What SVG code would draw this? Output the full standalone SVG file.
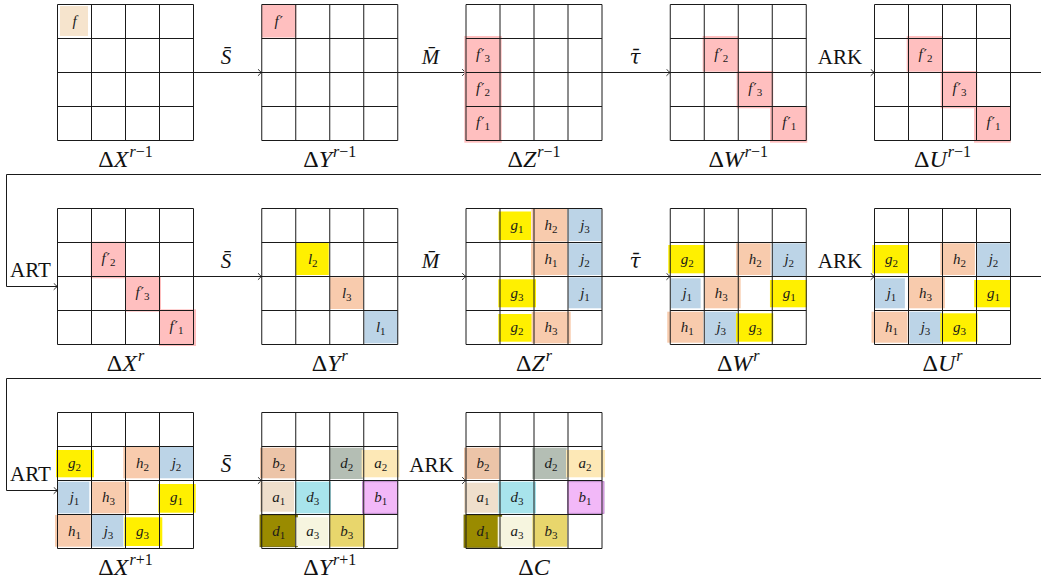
<svg xmlns="http://www.w3.org/2000/svg" width="1041" height="583" viewBox="0 0 1041 583">
<style>
.g{fill:none;stroke:#1a1a1a;stroke-width:1}
.c{font-family:"Liberation Serif",serif;font-size:15px;text-anchor:middle;fill:#1a1a1a}
.i{font-style:italic}
.s{font-size:11px}
.p{font-family:"DejaVu Sans",sans-serif;font-size:14px}
.L{font-family:"Liberation Serif",serif;font-size:24px;text-anchor:middle;fill:#111}
.sup{font-size:16px}
.op{font-family:"Liberation Serif",serif;font-size:21px;text-anchor:middle;fill:#111}
.tau{font-family:"DejaVu Serif",serif;font-size:20px;text-anchor:middle;fill:#111}
.art{font-family:"Liberation Serif",serif;font-size:21px;fill:#111}
.cn{fill:none;stroke:#1a1a1a;stroke-width:1}
.pk{fill:#ffbfbf}
.yl{fill:#fff000}
.pe{fill:#f8cbad}
.bl{fill:#bcd4e7}
</style>
<defs>
<path id="grid" class="g" d="M0,0H136V136H0Z M34,0V136 M68,0V136 M102,0V136 M0,34H136 M0,68H136 M0,102H136"/>
<marker id="ah" markerWidth="6" markerHeight="8" viewBox="-5 -4 6 8" refX="0" refY="0" orient="auto" markerUnits="userSpaceOnUse">
<path d="M-3.8,-3.3 Q-1.2,-0.6 0,0 Q-1.2,0.6 -3.8,3.3" fill="none" stroke="#1a1a1a" stroke-width="0.9"/>
</marker>
</defs>

<g id="connectors">
<path class="cn" d="M193.5,72.5H261.75" marker-end="url(#ah)"/>
<path class="cn" d="M397.75,72.5H466" marker-end="url(#ah)"/>
<path class="cn" d="M602,72.5H670.25" marker-end="url(#ah)"/>
<path class="cn" d="M806.25,72.5H874.5" marker-end="url(#ah)"/>
<path class="cn" d="M1010.5,72.5H1041"/>
<path class="cn" d="M1041,174.5H6.5V286.5H57.5" marker-end="url(#ah)"/>
<path class="cn" d="M193.5,276.5H261.75" marker-end="url(#ah)"/>
<path class="cn" d="M397.75,276.5H466" marker-end="url(#ah)"/>
<path class="cn" d="M602,276.5H670.25" marker-end="url(#ah)"/>
<path class="cn" d="M806.25,276.5H874.5" marker-end="url(#ah)"/>
<path class="cn" d="M1010.5,276.5H1041"/>
<path class="cn" d="M1041,378.5H6.5V490.5H57.5" marker-end="url(#ah)"/>
<path class="cn" d="M193.5,480.5H261.75" marker-end="url(#ah)"/>
<path class="cn" d="M397.75,480.5H466" marker-end="url(#ah)"/>
<text class="op" x="226" y="63.5"><tspan class="i">S&#x304;</tspan></text>
<text class="op" x="430.5" y="63.5"><tspan class="i">M&#x304;</tspan></text>
<text class="tau" x="635" y="63.5"><tspan class="i">τ&#x304;</tspan></text>
<text class="op" x="840" y="63.5">ARK</text>
<text class="art" x="10" y="277">ART</text>
<text class="op" x="226" y="267.5"><tspan class="i">S&#x304;</tspan></text>
<text class="op" x="430.5" y="267.5"><tspan class="i">M&#x304;</tspan></text>
<text class="tau" x="635" y="267.5"><tspan class="i">τ&#x304;</tspan></text>
<text class="op" x="840" y="267.5">ARK</text>
<text class="art" x="10" y="481">ART</text>
<text class="op" x="226" y="471.5"><tspan class="i">S&#x304;</tspan></text>
<text class="op" x="431.5" y="471.5">ARK</text>
</g>

<g id="dX_rm1" transform="translate(57.5,4.5)">
<rect x="2.5" y="1.5" width="28" height="30" fill="#f6e4cd"/>
<use href="#grid"/>
<text class="c" x="17" y="21"><tspan class="i">f</tspan></text>
<text class="L" x="68" y="162">Δ<tspan class="i">X</tspan><tspan class="sup" dx="1" dy="-10"><tspan class="i">r</tspan>−1</tspan></text>
</g>

<g id="dY_rm1" transform="translate(261.75,4.5)">
<rect class="pk" x="0" y="0" width="34.5" height="33"/>
<use href="#grid"/>
<text class="c" x="17" y="21"><tspan class="i">f</tspan><tspan class="p" dx="1">′</tspan></text>
<text class="L" x="68" y="162">Δ<tspan class="i">Y</tspan><tspan class="sup" dx="1" dy="-10"><tspan class="i">r</tspan>−1</tspan></text>
</g>

<g id="dZ_rm1" transform="translate(466,4.5)">
<rect class="pk" x="-1.7" y="31.5" width="37.4" height="106.7"/>
<use href="#grid"/>
<text class="c" x="17" y="54"><tspan class="i">f</tspan><tspan class="p" dx="1">′</tspan><tspan class="s" dy="3">3</tspan></text>
<text class="c" x="17" y="88"><tspan class="i">f</tspan><tspan class="p" dx="1">′</tspan><tspan class="s" dy="3">2</tspan></text>
<text class="c" x="17" y="122"><tspan class="i">f</tspan><tspan class="p" dx="1">′</tspan><tspan class="s" dy="3">1</tspan></text>
<text class="L" x="68" y="162">Δ<tspan class="i">Z</tspan><tspan class="sup" dx="1" dy="-10"><tspan class="i">r</tspan>−1</tspan></text>
</g>

<g id="dW_rm1" transform="translate(670.25,4.5)">
<rect class="pk" x="32.4" y="31.5" width="36.3" height="35.7"/>
<rect class="pk" x="66.4" y="66.5" width="36.6" height="37.3"/>
<rect class="pk" x="99.75" y="101.5" width="37.25" height="36.7"/>
<use href="#grid"/>
<text class="c" x="51" y="54"><tspan class="i">f</tspan><tspan class="p" dx="1">′</tspan><tspan class="s" dy="3">2</tspan></text>
<text class="c" x="85" y="88"><tspan class="i">f</tspan><tspan class="p" dx="1">′</tspan><tspan class="s" dy="3">3</tspan></text>
<text class="c" x="119" y="122"><tspan class="i">f</tspan><tspan class="p" dx="1">′</tspan><tspan class="s" dy="3">1</tspan></text>
<text class="L" x="68" y="162">Δ<tspan class="i">W</tspan><tspan class="sup" dx="1" dy="-10"><tspan class="i">r</tspan>−1</tspan></text>
</g>

<g id="dU_rm1" transform="translate(874.5,4.5)">
<rect class="pk" x="32.2" y="31.5" width="36" height="35.7"/>
<rect class="pk" x="66.2" y="66.5" width="36.6" height="37.3"/>
<rect class="pk" x="99.5" y="101.5" width="36.7" height="36.7"/>
<use href="#grid"/>
<text class="c" x="51" y="54"><tspan class="i">f</tspan><tspan class="p" dx="1">′</tspan><tspan class="s" dy="3">2</tspan></text>
<text class="c" x="85" y="88"><tspan class="i">f</tspan><tspan class="p" dx="1">′</tspan><tspan class="s" dy="3">3</tspan></text>
<text class="c" x="119" y="122"><tspan class="i">f</tspan><tspan class="p" dx="1">′</tspan><tspan class="s" dy="3">1</tspan></text>
<text class="L" x="68" y="162">Δ<tspan class="i">U</tspan><tspan class="sup" dx="1" dy="-10"><tspan class="i">r</tspan>−1</tspan></text>
</g>

<g id="dX_r" transform="translate(57.5,208.5)">
<rect class="pk" x="33.2" y="33.2" width="35.3" height="36.6"/>
<rect class="pk" x="67.5" y="67.5" width="36" height="35.7"/>
<rect class="pk" x="101.5" y="100.8" width="37" height="36.7"/>
<use href="#grid"/>
<text class="c" x="51" y="54"><tspan class="i">f</tspan><tspan class="p" dx="1">′</tspan><tspan class="s" dy="3">2</tspan></text>
<text class="c" x="85" y="88"><tspan class="i">f</tspan><tspan class="p" dx="1">′</tspan><tspan class="s" dy="3">3</tspan></text>
<text class="c" x="119" y="122"><tspan class="i">f</tspan><tspan class="p" dx="1">′</tspan><tspan class="s" dy="3">1</tspan></text>
<text class="L" x="68" y="162">Δ<tspan class="i">X</tspan><tspan class="sup i" dx="1" dy="-10">r</tspan></text>
</g>

<g id="dY_r" transform="translate(261.75,208.5)">
<rect class="yl" x="34" y="34" width="33" height="32.5"/>
<rect class="pe" x="68.3" y="68.8" width="33.3" height="31.7"/>
<rect class="bl" x="102.5" y="102.5" width="33.5" height="32.3"/>
<use href="#grid"/>
<text class="c" x="51" y="55"><tspan class="i">l</tspan><tspan class="s" dy="3">2</tspan></text>
<text class="c" x="85" y="89"><tspan class="i">l</tspan><tspan class="s" dy="3">3</tspan></text>
<text class="c" x="119" y="123"><tspan class="i">l</tspan><tspan class="s" dy="3">1</tspan></text>
<text class="L" x="68" y="162">Δ<tspan class="i">Y</tspan><tspan class="sup i" dx="1" dy="-10">r</tspan></text>
</g>

<g id="dZ_r" transform="translate(466,208.5)">
<rect class="yl" x="32.5" y="3" width="32.5" height="28.5"/>
<rect class="pe" x="65.5" y="0" width="35.5" height="33"/>
<rect class="bl" x="102.5" y="0" width="33" height="32.5"/>
<rect class="pe" x="65" y="34.8" width="36.3" height="31.7"/>
<rect class="bl" x="102.3" y="34.8" width="33.4" height="31.7"/>
<rect class="yl" x="32.3" y="70.8" width="37.7" height="28"/>
<rect class="bl" x="102.3" y="68.8" width="33.4" height="31"/>
<rect class="yl" x="32.3" y="105.5" width="33.4" height="27.7"/>
<rect class="pe" x="65.7" y="103.2" width="39" height="31.6"/>
<use href="#grid"/>
<text class="c" x="51" y="21"><tspan class="i">g</tspan><tspan class="s" dy="3">1</tspan></text>
<text class="c" x="85" y="21"><tspan class="i">h</tspan><tspan class="s" dy="3">2</tspan></text>
<text class="c" x="119" y="21"><tspan class="i">j</tspan><tspan class="s" dy="3">3</tspan></text>
<text class="c" x="85" y="55"><tspan class="i">h</tspan><tspan class="s" dy="3">1</tspan></text>
<text class="c" x="119" y="55"><tspan class="i">j</tspan><tspan class="s" dy="3">2</tspan></text>
<text class="c" x="51" y="89"><tspan class="i">g</tspan><tspan class="s" dy="3">3</tspan></text>
<text class="c" x="119" y="89"><tspan class="i">j</tspan><tspan class="s" dy="3">1</tspan></text>
<text class="c" x="51" y="123"><tspan class="i">g</tspan><tspan class="s" dy="3">2</tspan></text>
<text class="c" x="85" y="123"><tspan class="i">h</tspan><tspan class="s" dy="3">3</tspan></text>
<text class="L" x="68" y="162">Δ<tspan class="i">Z</tspan><tspan class="sup i" dx="1" dy="-10">r</tspan></text>
</g>

<g id="dW_r" transform="translate(670.25,208.5)">
<rect class="yl" x="-2" y="36.5" width="36.8" height="28.3"/>
<rect class="pe" x="65.8" y="34.8" width="34.6" height="31.7"/>
<rect class="bl" x="102" y="34.8" width="33.4" height="32.7"/>
<rect class="bl" x="0.4" y="69.8" width="30" height="30"/>
<rect class="pe" x="34" y="68.8" width="36.4" height="31"/>
<rect class="yl" x="99.7" y="71.5" width="36.7" height="27.3"/>
<rect class="pe" x="-3" y="103.2" width="36" height="31"/>
<rect class="bl" x="34.8" y="103.2" width="32.2" height="31.8"/>
<rect class="yl" x="65.8" y="104.8" width="37.2" height="28.4"/>
<use href="#grid"/>
<text class="c" x="17" y="55"><tspan class="i">g</tspan><tspan class="s" dy="3">2</tspan></text>
<text class="c" x="85" y="55"><tspan class="i">h</tspan><tspan class="s" dy="3">2</tspan></text>
<text class="c" x="119" y="55"><tspan class="i">j</tspan><tspan class="s" dy="3">2</tspan></text>
<text class="c" x="17" y="89"><tspan class="i">j</tspan><tspan class="s" dy="3">1</tspan></text>
<text class="c" x="51" y="89"><tspan class="i">h</tspan><tspan class="s" dy="3">3</tspan></text>
<text class="c" x="119" y="89"><tspan class="i">g</tspan><tspan class="s" dy="3">1</tspan></text>
<text class="c" x="17" y="123"><tspan class="i">h</tspan><tspan class="s" dy="3">1</tspan></text>
<text class="c" x="51" y="123"><tspan class="i">j</tspan><tspan class="s" dy="3">3</tspan></text>
<text class="c" x="85" y="123"><tspan class="i">g</tspan><tspan class="s" dy="3">3</tspan></text>
<text class="L" x="68" y="162">Δ<tspan class="i">W</tspan><tspan class="sup i" dx="1" dy="-10">r</tspan></text>
</g>

<g id="dU_r" transform="translate(874.5,208.5)">
<rect class="yl" x="-2.2" y="36.5" width="36.7" height="28.3"/>
<rect class="pe" x="65.8" y="34.8" width="34.6" height="31.7"/>
<rect class="bl" x="102" y="34.8" width="33.4" height="32.7"/>
<rect class="bl" x="0.4" y="69.8" width="30" height="30"/>
<rect class="pe" x="34" y="68.8" width="36.4" height="31"/>
<rect class="yl" x="99.7" y="71.5" width="36.7" height="27.3"/>
<rect class="pe" x="-3" y="103.2" width="36" height="31"/>
<rect class="bl" x="34.8" y="103.2" width="32.2" height="31.8"/>
<rect class="yl" x="65.8" y="104.8" width="37.2" height="28.4"/>
<use href="#grid"/>
<text class="c" x="17" y="55"><tspan class="i">g</tspan><tspan class="s" dy="3">2</tspan></text>
<text class="c" x="85" y="55"><tspan class="i">h</tspan><tspan class="s" dy="3">2</tspan></text>
<text class="c" x="119" y="55"><tspan class="i">j</tspan><tspan class="s" dy="3">2</tspan></text>
<text class="c" x="17" y="89"><tspan class="i">j</tspan><tspan class="s" dy="3">1</tspan></text>
<text class="c" x="51" y="89"><tspan class="i">h</tspan><tspan class="s" dy="3">3</tspan></text>
<text class="c" x="119" y="89"><tspan class="i">g</tspan><tspan class="s" dy="3">1</tspan></text>
<text class="c" x="17" y="123"><tspan class="i">h</tspan><tspan class="s" dy="3">1</tspan></text>
<text class="c" x="51" y="123"><tspan class="i">j</tspan><tspan class="s" dy="3">3</tspan></text>
<text class="c" x="85" y="123"><tspan class="i">g</tspan><tspan class="s" dy="3">3</tspan></text>
<text class="L" x="68" y="162">Δ<tspan class="i">U</tspan><tspan class="sup i" dx="1" dy="-10">r</tspan></text>
</g>

<g id="dX_rp1" transform="translate(57.5,412.5)">
<rect class="yl" x="-1.5" y="37.5" width="38" height="27.3"/>
<rect class="pe" x="65.8" y="34.2" width="35.7" height="31.6"/>
<rect class="bl" x="102.5" y="34.2" width="34" height="31.6"/>
<rect class="bl" x="-0.2" y="69.2" width="32" height="31.6"/>
<rect class="pe" x="34.2" y="69.2" width="37.3" height="31.6"/>
<rect class="yl" x="100.8" y="71.5" width="37.4" height="28.7"/>
<rect class="pe" x="-2.5" y="102.5" width="35.7" height="31.7"/>
<rect class="bl" x="34.2" y="102.5" width="31.6" height="31.7"/>
<rect class="yl" x="66.8" y="104.8" width="38" height="28.7"/>
<use href="#grid"/>
<text class="c" x="17" y="55"><tspan class="i">g</tspan><tspan class="s" dy="3">2</tspan></text>
<text class="c" x="85" y="55"><tspan class="i">h</tspan><tspan class="s" dy="3">2</tspan></text>
<text class="c" x="119" y="55"><tspan class="i">j</tspan><tspan class="s" dy="3">2</tspan></text>
<text class="c" x="17" y="89"><tspan class="i">j</tspan><tspan class="s" dy="3">1</tspan></text>
<text class="c" x="51" y="89"><tspan class="i">h</tspan><tspan class="s" dy="3">3</tspan></text>
<text class="c" x="119" y="89"><tspan class="i">g</tspan><tspan class="s" dy="3">1</tspan></text>
<text class="c" x="17" y="123"><tspan class="i">h</tspan><tspan class="s" dy="3">1</tspan></text>
<text class="c" x="51" y="123"><tspan class="i">j</tspan><tspan class="s" dy="3">3</tspan></text>
<text class="c" x="85" y="123"><tspan class="i">g</tspan><tspan class="s" dy="3">3</tspan></text>
<text class="L" x="68" y="162">Δ<tspan class="i">X</tspan><tspan class="sup" dx="1" dy="-10"><tspan class="i">r</tspan>+1</tspan></text>
</g>

<g id="dY_rp1" transform="translate(261.75,412.5)">
<rect x="-1.75" y="35.2" width="36" height="30.6" fill="#ecc4a8"/>
<rect x="68.25" y="35.2" width="32.75" height="31.3" fill="#b4beb4"/>
<rect x="99.9" y="37.5" width="37.7" height="27.3" fill="#fde8b6"/>
<rect x="-1.75" y="69.2" width="34" height="30" fill="#efdfcc"/>
<rect x="33.25" y="69.2" width="36" height="31.6" fill="#a8e4ec"/>
<rect x="100.9" y="69.2" width="35" height="31.6" fill="#f2b8f8" stroke="#b070c0" stroke-width="0.8"/>
<rect x="-1.75" y="102.5" width="37.35" height="31.7" fill="#9a8b00" stroke="#6e6300" stroke-width="0.8"/>
<rect x="33.25" y="104.8" width="33.35" height="28.7" fill="#f6f5df"/>
<rect x="67.6" y="102.5" width="35.65" height="31.7" fill="#e8d66c"/>
<use href="#grid"/>
<text class="c" x="17" y="55"><tspan class="i">b</tspan><tspan class="s" dy="3">2</tspan></text>
<text class="c" x="85" y="55"><tspan class="i">d</tspan><tspan class="s" dy="3">2</tspan></text>
<text class="c" x="119" y="55"><tspan class="i">a</tspan><tspan class="s" dy="3">2</tspan></text>
<text class="c" x="17" y="89"><tspan class="i">a</tspan><tspan class="s" dy="3">1</tspan></text>
<text class="c" x="51" y="89"><tspan class="i">d</tspan><tspan class="s" dy="3">3</tspan></text>
<text class="c" x="119" y="89"><tspan class="i">b</tspan><tspan class="s" dy="3">1</tspan></text>
<text class="c" x="17" y="123"><tspan class="i">d</tspan><tspan class="s" dy="3">1</tspan></text>
<text class="c" x="51" y="123"><tspan class="i">a</tspan><tspan class="s" dy="3">3</tspan></text>
<text class="c" x="85" y="123"><tspan class="i">b</tspan><tspan class="s" dy="3">3</tspan></text>
<text class="L" x="68" y="162">Δ<tspan class="i">Y</tspan><tspan class="sup" dx="1" dy="-10"><tspan class="i">r</tspan>+1</tspan></text>
</g>

<g id="dC" transform="translate(466,412.5)">
<rect x="-2" y="35.2" width="35.3" height="31.3" fill="#ecc4a8"/>
<rect x="66.3" y="35.2" width="34.4" height="31.3" fill="#b4beb4"/>
<rect x="100" y="37.5" width="39" height="27.3" fill="#fde8b6"/>
<rect x="-2" y="70.2" width="34.3" height="30" fill="#efdfcc"/>
<rect x="32.3" y="69.2" width="37.7" height="31.6" fill="#a8e4ec"/>
<rect x="101.7" y="69.2" width="36.3" height="31.6" fill="#f2b8f8" stroke="#b070c0" stroke-width="0.8"/>
<rect x="-2" y="102.5" width="37.7" height="32.3" fill="#9a8b00" stroke="#6e6300" stroke-width="0.8"/>
<rect x="31.7" y="104.2" width="34.6" height="30" fill="#f6f5df"/>
<rect x="66.3" y="102.5" width="35" height="31.7" fill="#e8d66c"/>
<use href="#grid"/>
<text class="c" x="17" y="55"><tspan class="i">b</tspan><tspan class="s" dy="3">2</tspan></text>
<text class="c" x="85" y="55"><tspan class="i">d</tspan><tspan class="s" dy="3">2</tspan></text>
<text class="c" x="119" y="55"><tspan class="i">a</tspan><tspan class="s" dy="3">2</tspan></text>
<text class="c" x="17" y="89"><tspan class="i">a</tspan><tspan class="s" dy="3">1</tspan></text>
<text class="c" x="51" y="89"><tspan class="i">d</tspan><tspan class="s" dy="3">3</tspan></text>
<text class="c" x="119" y="89"><tspan class="i">b</tspan><tspan class="s" dy="3">1</tspan></text>
<text class="c" x="17" y="123"><tspan class="i">d</tspan><tspan class="s" dy="3">1</tspan></text>
<text class="c" x="51" y="123"><tspan class="i">a</tspan><tspan class="s" dy="3">3</tspan></text>
<text class="c" x="85" y="123"><tspan class="i">b</tspan><tspan class="s" dy="3">3</tspan></text>
<text class="L" x="68" y="162">Δ<tspan class="i">C</tspan></text>
</g>
</svg>
